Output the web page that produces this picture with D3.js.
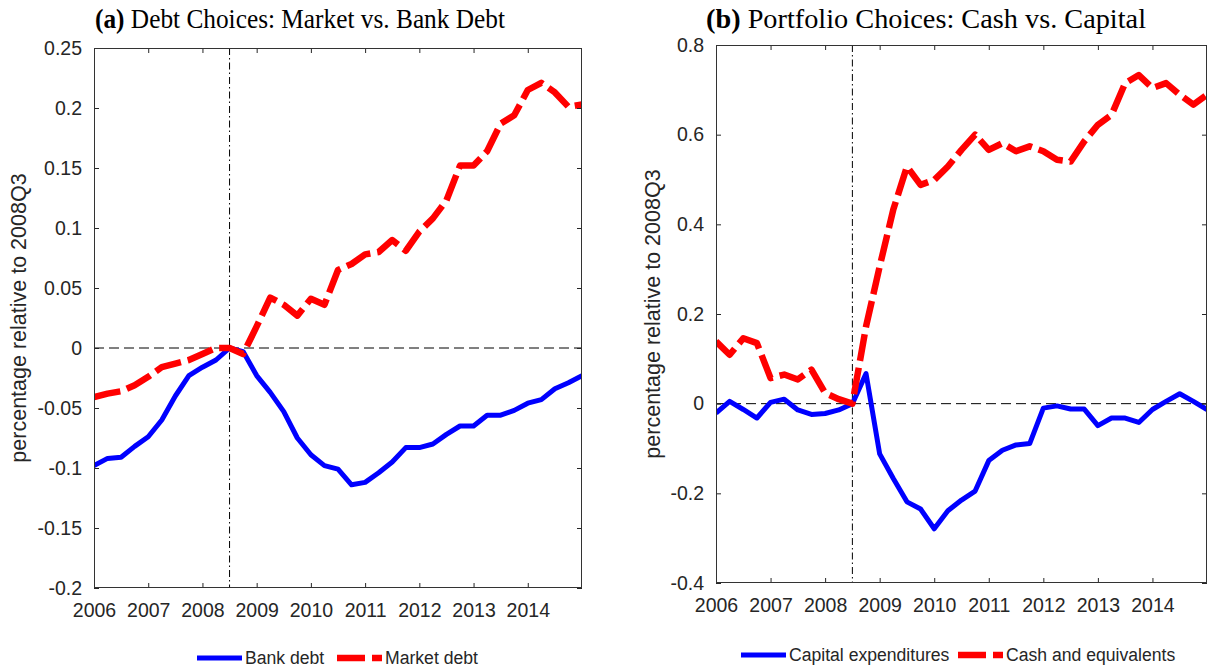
<!DOCTYPE html>
<html>
<head>
<meta charset="utf-8">
<script src="https://cdn.jsdelivr.net/npm/d3@7/dist/d3.min.js"></script>
<style>
  html, body { margin: 0; padding: 0; background: #fff; }
  svg { display: block; }
</style>
</head>
<body>
<script>
// ---------------- DATA ----------------
const quarters = [2006, 2006.25, 2006.5, 2006.75, 2007, 2007.25, 2007.5, 2007.75,
  2008, 2008.25, 2008.5, 2008.75, 2009, 2009.25, 2009.5, 2009.75,
  2010, 2010.25, 2010.5, 2010.75, 2011, 2011.25, 2011.5, 2011.75,
  2012, 2012.25, 2012.5, 2012.75, 2013, 2013.25, 2013.5, 2013.75,
  2014, 2014.25, 2014.5, 2014.75, 2015];

const yearTicks = [2006, 2007, 2008, 2009, 2010, 2011, 2012, 2013, 2014];
const eventDate = 2008.5; // 2008Q3

const bankDebt = [-0.098, -0.092, -0.091, -0.082, -0.074, -0.060, -0.040, -0.023,
  -0.016, -0.010, 0.000, -0.003, -0.023, -0.037, -0.053, -0.075,
  -0.089, -0.098, -0.101, -0.114, -0.112, -0.104, -0.095, -0.083,
  -0.083, -0.080, -0.072, -0.065, -0.065, -0.056, -0.056, -0.052,
  -0.046, -0.043, -0.034, -0.029, -0.023];

const marketDebt = [-0.041, -0.038, -0.036, -0.031, -0.024, -0.016, -0.013, -0.010,
  -0.005, 0.000, 0.000, -0.005, 0.018, 0.042, 0.036, 0.027,
  0.041, 0.036, 0.065, 0.070, 0.078, 0.080, 0.090, 0.081,
  0.097, 0.108, 0.123, 0.152, 0.152, 0.164, 0.187, 0.194,
  0.215, 0.221, 0.213, 0.201, 0.203];

const capex = [-0.021, 0.005, -0.013, -0.032, 0.003, 0.010, -0.014, -0.024,
  -0.022, -0.014, 0.000, 0.067, -0.112, -0.167, -0.219, -0.235,
  -0.279, -0.239, -0.215, -0.195, -0.127, -0.104, -0.092, -0.089,
  -0.010, -0.005, -0.012, -0.012, -0.049, -0.032, -0.032, -0.042,
  -0.013, 0.005, 0.022, 0.005, -0.013];

const cash = [0.139, 0.109, 0.146, 0.135, 0.057, 0.065, 0.054, 0.076,
  0.024, 0.010, 0.000, 0.172, 0.306, 0.433, 0.529, 0.488,
  0.499, 0.529, 0.566, 0.600, 0.566, 0.581, 0.563, 0.574,
  0.563, 0.544, 0.540, 0.585, 0.622, 0.644, 0.715, 0.733,
  0.704, 0.715, 0.689, 0.667, 0.689];

const yTicksA = [-0.2, -0.15, -0.1, -0.05, 0, 0.05, 0.1, 0.15, 0.2, 0.25];
const yTickLabelsA = ["-0.2", "-0.15", "-0.1", "-0.05", "0", "0.05", "0.1", "0.15", "0.2", "0.25"];
const yTicksB = [-0.4, -0.2, 0, 0.2, 0.4, 0.6, 0.8];
const yTickLabelsB = ["-0.4", "-0.2", "0", "0.2", "0.4", "0.6", "0.8"];

const titleA = ["(a)", " Debt Choices: Market vs. Bank Debt"];
const titleB = ["(b)", " Portfolio Choices: Cash vs. Capital"];
const yLabel = "percentage relative to 2008Q3";
const legendA = ["Bank debt", "Market debt"];
const legendB = ["Capital expenditures", "Cash and equivalents"];

// ---------------- DRAW ----------------
const W = 1208, H = 670;
const svg = d3.select("body").append("svg").attr("width", W).attr("height", H);
const SANS = "'Liberation Sans', Arial, Helvetica, sans-serif";
const SERIF = "'Liberation Serif', 'DejaVu Serif', serif";
const TXT = "#262626";
const BLUE = "#0000ff", RED = "#ff0000";

function drawPanel(cfg) {
  const { id, L, R, T, B, yDomain, yTicks, yLabels, series, title, titleX, titleW, titleY,
          ylabX, legend, legY, legX } = cfg;
  const x = d3.scaleLinear().domain([2006, 2015]).range([L, R]);
  const y = d3.scaleLinear().domain(yDomain).range([B, T]);
  const g = svg.append("g");

  const clipId = "clip" + id;
  svg.append("clipPath").attr("id", clipId)
    .append("rect").attr("x", L).attr("y", T).attr("width", R - L).attr("height", B - T);

  // reference lines
  g.append("line")
    .attr("x1", L).attr("x2", R).attr("y1", y(0)).attr("y2", y(0))
    .attr("stroke", "#000").attr("stroke-width", 1).attr("stroke-dasharray", "10,5");
  g.append("line")
    .attr("x1", x(eventDate)).attr("x2", x(eventDate)).attr("y1", T).attr("y2", B)
    .attr("stroke", "#000").attr("stroke-width", 1).attr("stroke-dasharray", "7,3,1.5,3");

  // series
  const line = d3.line().x((d, i) => x(quarters[i])).y(d => y(d));
  const lg = g.append("g").attr("clip-path", `url(#${clipId})`);
  series.forEach(s => {
    lg.append("path").datum(s.values)
      .attr("d", line)
      .attr("fill", "none")
      .attr("stroke", s.color)
      .attr("stroke-width", s.width)
      .attr("stroke-linejoin", "round")
      .attr("stroke-dasharray", s.dash || null);
  });

  // axes
  const styleAxis = sel => {
    sel.select(".domain").remove();
    sel.selectAll(".tick line").attr("stroke", TXT).attr("stroke-width", 1);
    sel.selectAll(".tick text").attr("fill", TXT).attr("font-family", SANS).attr("font-size", "19.5px");
  };
  const xAxis = g.append("g").attr("transform", `translate(0,${B})`)
    .call(d3.axisBottom(x).tickValues(yearTicks).tickFormat(d3.format("d"))
      .tickSizeInner(-5).tickSizeOuter(0).tickPadding(15));
  styleAxis(xAxis);
  const xTop = g.append("g").attr("transform", `translate(0,${T})`)
    .call(d3.axisTop(x).tickValues(yearTicks).tickFormat("").tickSizeInner(-5).tickSizeOuter(0));
  styleAxis(xTop);
  const yAxis = g.append("g").attr("transform", `translate(${L},0)`)
    .call(d3.axisLeft(y).tickValues(yTicks).tickFormat((d, i) => yLabels[i])
      .tickSizeInner(-5).tickSizeOuter(0).tickPadding(12));
  styleAxis(yAxis);
  const yRight = g.append("g").attr("transform", `translate(${R},0)`)
    .call(d3.axisRight(y).tickValues(yTicks).tickFormat("").tickSizeInner(-5).tickSizeOuter(0));
  styleAxis(yRight);

  // box
  g.append("rect").attr("x", L + 0.5).attr("y", T + 0.5)
    .attr("width", R - L - 1).attr("height", B - T - 1)
    .attr("fill", "none").attr("stroke", "#333").attr("stroke-width", 1);

  // y label
  g.append("text")
    .attr("transform", `translate(${ylabX},${(T + B) / 2}) rotate(-90)`)
    .attr("text-anchor", "middle")
    .attr("font-family", SANS).attr("font-size", "21.5px").attr("fill", TXT)
    .text(yLabel);

  // title
  const t = svg.append("text").attr("x", titleX).attr("y", titleY)
    .attr("font-family", SERIF).attr("font-size", "26.5px").attr("fill", "#000")
    .attr("textLength", titleW).attr("lengthAdjust", "spacingAndGlyphs");
  t.append("tspan").attr("font-weight", "bold").text(title[0]);
  t.append("tspan").text(title[1]);

  // legend
  const lgd = svg.append("g");
  lgd.append("line").attr("x1", legX[0]).attr("x2", legX[0] + 45).attr("y1", legY).attr("y2", legY)
    .attr("stroke", series[0].color).attr("stroke-width", series[0].width);
  lgd.append("text").attr("x", legX[0] + 48).attr("y", legY).attr("dy", "0.36em")
    .attr("font-family", SANS).attr("font-size", "17.6px").attr("fill", TXT).text(legend[0]);
  lgd.append("line").attr("x1", legX[1]).attr("x2", legX[1] + 45).attr("y1", legY).attr("y2", legY)
    .attr("stroke", series[1].color).attr("stroke-width", series[1].width)
    .attr("stroke-dasharray", "28,7");
  lgd.append("text").attr("x", legX[1] + 48).attr("y", legY).attr("dy", "0.36em")
    .attr("font-family", SANS).attr("font-size", "17.6px").attr("fill", TXT).text(legend[1]);
}

drawPanel({
  id: "a", L: 94, R: 582, T: 48, B: 588,
  yDomain: [-0.2, 0.25], yTicks: yTicksA, yLabels: yTickLabelsA,
  series: [
    { values: bankDebt, color: BLUE, width: 5 },
    { values: marketDebt, color: RED, width: 6.5, dash: "27,7" }
  ],
  title: titleA, titleX: 95, titleW: 410, titleY: 28,
  ylabX: 26, legend: legendA, legY: 658, legX: [197, 337]
});

drawPanel({
  id: "b", L: 716, R: 1207, T: 45, B: 583,
  yDomain: [-0.4, 0.8], yTicks: yTicksB, yLabels: yTickLabelsB,
  series: [
    { values: capex, color: BLUE, width: 5 },
    { values: cash, color: RED, width: 6.5, dash: "27,7" }
  ],
  title: titleB, titleX: 706, titleW: 440, titleY: 28,
  ylabX: 660, legend: legendB, legY: 655, legX: [741, 958]
});
</script>
</body>
</html>
